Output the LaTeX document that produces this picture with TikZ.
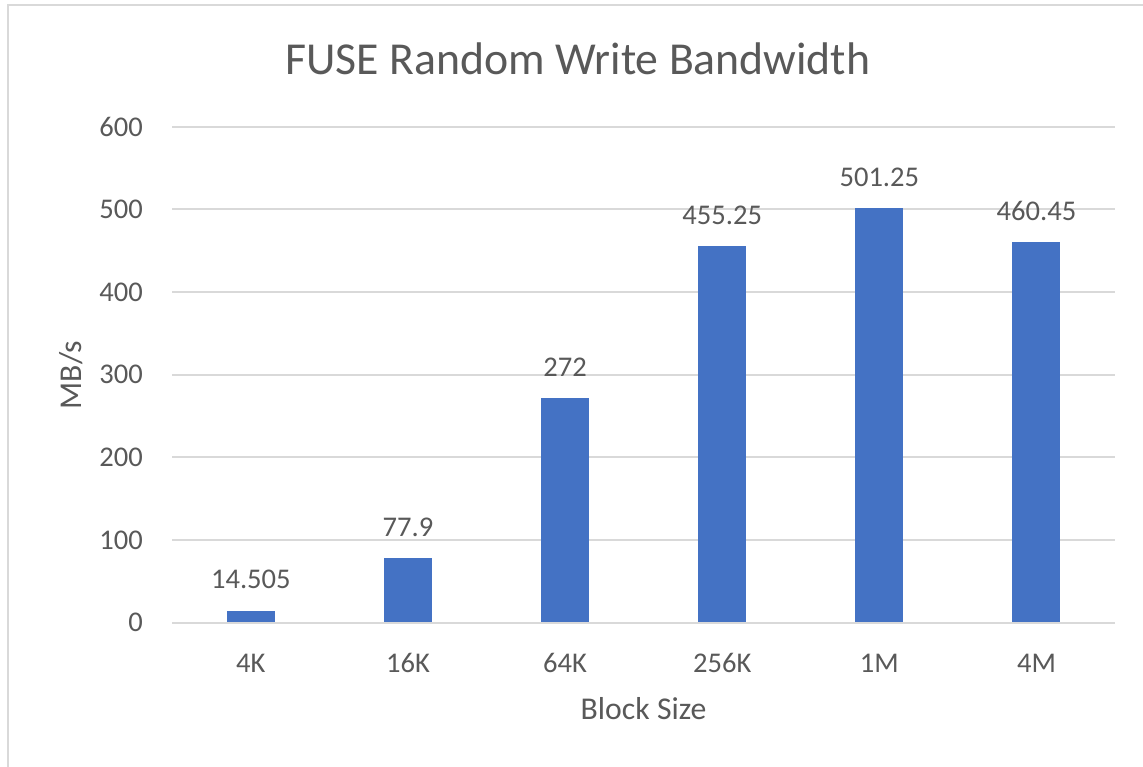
\documentclass[tikz,border=0pt]{standalone}
\usepackage{fontspec}
\setmainfont{Carlito}
\definecolor{txtgray}{HTML}{595959}
\definecolor{gridgray}{HTML}{D9D9D9}
\definecolor{barblue}{HTML}{4472C4}
\begin{document}
\begin{tikzpicture}[x=0.75pt,y=-0.75pt,
  gridline/.style={draw=gridgray, line width=1.5pt},
  frameline/.style={draw=gridgray, line width=2.2pt},
  barfill/.style={fill=barblue},
  ticklabel/.style={text=txtgray, inner sep=0pt, font=\fontsize{21.4}{25}\selectfont},
  vallabel/.style={text=txtgray, inner sep=0pt, font=\fontsize{21.4}{25}\selectfont},
  axistitle/.style={text=txtgray, inner sep=0pt, font=\fontsize{23.8}{28}\selectfont},
  charttitle/.style={text=txtgray, inner sep=0pt, font=\fontsize{34.3}{40}\selectfont}]
\useasboundingbox (0,0) rectangle (1143,767);
\fill[white] (0,0) rectangle (1143,767);
% chart frame (left and top edges)
\draw[frameline] (8,770) -- (8,5) -- (1146,5);
% title
\node[charttitle, anchor=base] (title) at (578,75) {FUSE Random Write Bandwidth};
% horizontal gridlines and value axis labels
\foreach \v in {0,100,...,600} {
  \pgfmathsetmacro{\gy}{622.7-0.8267*\v}
  \draw[gridline] (172.3,\gy) -- (1115,\gy);
  \node[ticklabel, anchor=east] (ytick\v) at (143,\gy) {\v};
}
% bars, value labels and category labels
\foreach \lab/\val/\txt [count=\i from 0] in
  {4K/14.505/14.505, 16K/77.9/77.9, 64K/272/272, 256K/455.25/455.25, 1M/501.25/501.25, 4M/460.45/460.45} {
  \pgfmathsetmacro{\cx}{172.3+157.12*(\i+0.5)}
  \pgfmathsetmacro{\ty}{622.7-0.8267*\val}
  \fill[barfill] ({\cx-24},621.8) rectangle ({\cx+24},\ty);
  \node[vallabel] (val\i) at (\cx,{\ty-31}) {\txt};
  \node[ticklabel] (cat\i) at (\cx,663) {\lab};
}
% axis titles
\node[axistitle] (xtitle) at (643.6,709) {Block Size};
\node[axistitle, rotate=90] (ytitle) at (71,375) {MB/s};
\end{tikzpicture}
\end{document}
